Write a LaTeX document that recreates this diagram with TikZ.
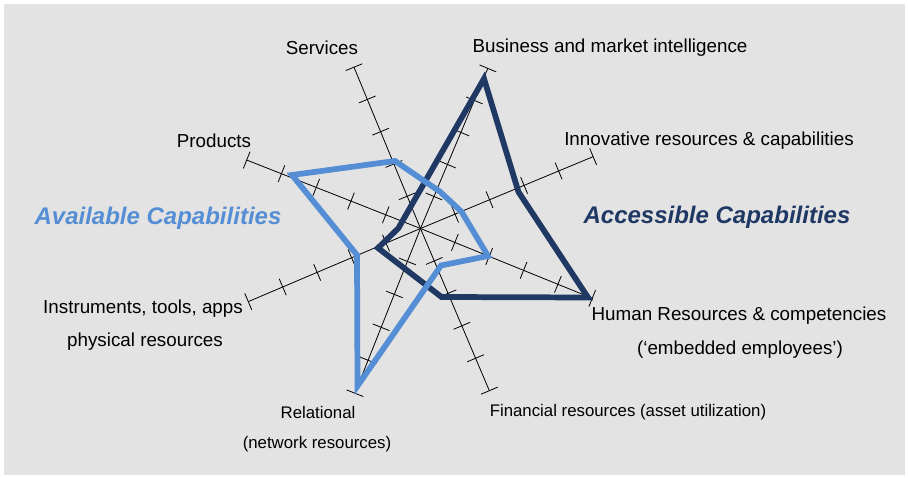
\documentclass[tikz,border=0pt]{standalone}
\usepackage{fontspec}
\setmainfont{Liberation Sans}
\usepackage{xcolor}
\definecolor{availblue}{HTML}{558ED5}
\definecolor{accessblue}{HTML}{1F3864}
\definecolor{panelgray}{HTML}{E3E3E3}

\begin{document}
\begin{tikzpicture}[x=0.75pt,y=0.75pt,
    axis/.style={black,line width=0.6pt},
    lbl/.style={anchor=base,inner sep=0pt,font=\fontsize{14.1}{16}\selectfont},
    lblsmall/.style={anchor=base,inner sep=0pt,font=\fontsize{12.6}{15}\selectfont},
    headline/.style={anchor=base,inner sep=0pt,font=\fontsize{18}{21}\selectfont\bfseries\itshape},
    profile/.style={line width=4.3pt,line join=miter}]
    \useasboundingbox (0,0) rectangle (908,478);
    \fill[panelgray] (4,3) rectangle (905,474);
    \coordinate (c) at (420.5,249.5);

    \foreach \a/\L/\n in {112.4/174.5/sv, 67.2/173.7/bi, 22.6/187/ir, -22.1/185.4/hr,
                         -67/176.2/fr, -111.7/177.3/rl, 203/187.1/it, 158.5/186.8/pr}{
        \begin{scope}[shift={(c)},rotate=\a]
            \draw[axis] (0,0) -- (\L,0) coordinate (\n);
            \foreach \k in {1,...,5}
                \draw[axis] (\k*\L/5,-9) -- (\k*\L/5,9);
        \end{scope}
    }

    \draw[profile,accessblue] (484,399.3) -- (518.5,286) -- (588,180.5) -- (441.5,181)
        -- (378,230) -- (398.3,249.7) -- cycle;
    \draw[profile,availblue] (395,317) -- (440,286.3) -- (461.5,266.3) -- (488,222)
        -- (441,212.5) -- (357.5,92) -- (357,223) -- (292,303) -- cycle;

    \node[lbl] (services) at (322,423) {Services};
    \node[lbl] (business) at (610,425) {Business and market intelligence};
    \node[lbl] (products) at (214,330) {Products};
    \node[lbl] (innovative) at (709,332) {Innovative resources \& capabilities};
    \node[headline,availblue] (available) at (158,253.5) {Available Capabilities};
    \node[headline,accessblue] (accessible) at (717,254.5) {Accessible Capabilities};
    \node[lbl] (instruments) at (143,164) {Instruments, tools, apps};
    \node[lbl] (physical) at (145,131) {physical resources};
    \node[lbl] (human) at (739,157) {Human Resources \& competencies};
    \node[lbl] (embedded) at (740,123) {(‘embedded employees’)};
    \node[lblsmall] (financial) at (628,61) {Financial resources (asset utilization)};
    \node[lblsmall] (relational) at (318,59) {Relational};
    \node[lblsmall] (network) at (317,29) {(network resources)};
\end{tikzpicture}
\end{document}
